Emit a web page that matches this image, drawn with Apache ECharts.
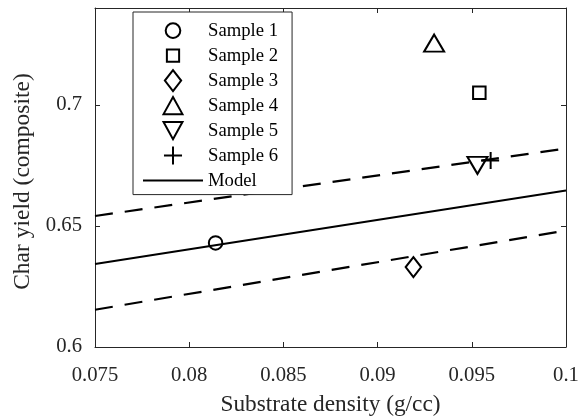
<!DOCTYPE html>
<html>
<head>
<meta charset="utf-8">
<script src="https://cdn.jsdelivr.net/npm/echarts@6/dist/echarts.min.js"></script>
<style>
  html, body { margin: 0; padding: 0; background: #fff; }
  #chart { width: 581px; height: 417px; }
</style>
</head>
<body>
<div id="chart"></div>
<script>
// ---- Data ----
const xTickLabels = ['0.075', '0.08', '0.085', '0.09', '0.095', '0.1'];
const yTickLabels = ['0.6', '0.65', '0.7'];

const sampleNames = ['Sample 1', 'Sample 2', 'Sample 3', 'Sample 4', 'Sample 5', 'Sample 6'];
const sampleDensity = [0.0814, 0.0954, 0.0919, 0.0930, 0.0953, 0.0960];
const sampleCharYield = [0.643, 0.705, 0.633, 0.7255, 0.675, 0.677];

const modelX = [0.075, 0.1];
const modelY = [0.6343, 0.6646];
const upperY = [0.6541, 0.6820];
const lowerY = [0.6154, 0.6481];

// ---- Styling ----
const FONT = '"Liberation Serif", "Times New Roman", serif';
const AX = '#262626';
const symbols = [
  'circle',
  'rect',
  'diamond',
  'triangle',
  'path://M-1,-1 L1,-1 L0,1 Z',
  'path://M0,-1 L0,1 M-1,0 L1,0'
];
const symbolSizes = [13.5, 12.5, [15.5, 20], [20, 17], [20, 17], [17, 17]];
// legend icons: padded to a common square box so relative sizes are kept
const PAD = 'M-1,-1 M1,1 ';
const legendIcons = [
  'path://' + PAD + 'M-0.665,0 A0.665,0.665 0 1,1 0.665,0 A0.665,0.665 0 1,1 -0.665,0 Z',
  'path://' + PAD + 'M-0.556,-0.556 L0.556,-0.556 L0.556,0.556 L-0.556,0.556 Z',
  'path://' + PAD + 'M0,-0.95 L0.74,0 L0,0.95 L-0.74,0 Z',
  'path://' + PAD + 'M0,-0.775 L0.86,0.775 L-0.86,0.775 Z',
  'path://' + PAD + 'M-0.86,-0.775 L0.86,-0.775 L0,0.775 Z',
  'path://' + PAD + 'M0,-0.82 L0,0.82 M-0.82,0 L0.82,0'
];

const pairs = (xs, ys) => xs.map((x, i) => [x, ys[i]]);

const series = [];
series.push({
  name: 'Model', type: 'line', data: pairs(modelX, modelY),
  symbol: 'none', lineStyle: { color: '#000', width: 2 }, z: 3, silent: true
});
series.push({
  name: 'Upper', type: 'line', data: pairs(modelX, upperY),
  symbol: 'none', lineStyle: { color: '#000', width: 2.2, type: [18, 12] }, z: 3, silent: true
});
series.push({
  name: 'Lower', type: 'line', data: pairs(modelX, lowerY),
  symbol: 'none', lineStyle: { color: '#000', width: 2.2, type: [18, 12] }, z: 3, silent: true
});
sampleNames.forEach((nm, i) => {
  series.push({
    name: nm, type: 'scatter',
    data: [[sampleDensity[i], sampleCharYield[i]]],
    symbol: symbols[i], symbolSize: symbolSizes[i],
    itemStyle: { color: 'rgba(255,255,255,0)', borderColor: '#000', borderWidth: 2, opacity: 1 },
    z: 5, silent: true
  });
});

const legendData = sampleNames.map((nm, i) => ({
  name: nm, icon: legendIcons[i],
  itemStyle: { color: 'rgba(255,255,255,0)', borderColor: '#000', borderWidth: 2 }
}));
legendData.push({
  name: 'Model',
  itemStyle: { color: 'rgba(0,0,0,0)', borderColor: 'rgba(0,0,0,0)', borderWidth: 0 },
  lineStyle: { color: '#000', width: 2 },
  textStyle: { fontFamily: FONT, fontSize: 18.7, color: '#000', lineHeight: 24 }
});

const baseAxis = {
  axisLine: { show: true, onZero: false, lineStyle: { color: AX, width: 1 } },
  axisTick: { show: true, inside: true, length: 5, lineStyle: { color: AX, width: 1 } },
  splitLine: { show: false }
};

const option = {
  animation: false,
  backgroundColor: '#fff',
  grid: { left: 95, right: 15, top: 8, bottom: 70, show: false, containLabel: false, outerBoundsMode: 'none' },
  legend: {
    data: legendData,
    orient: 'vertical',
    left: 133, top: 12,
    itemWidth: 60, itemHeight: 22, itemGap: 1,
    padding: [6.6, 14, 2, 9],
    backgroundColor: '#fff',
    borderColor: AX, borderWidth: 1,
    selectedMode: false,
    textStyle: { fontFamily: FONT, fontSize: 18.7, color: '#000', lineHeight: 18 },
    z: 10
  },
  xAxis: [
    Object.assign({}, baseAxis, {
      type: 'value', position: 'bottom', min: 0.075, max: 0.1, interval: 0.005,
      name: 'Substrate density (g/cc)', nameLocation: 'middle', nameGap: 46,
      nameTextStyle: { fontFamily: FONT, fontSize: 23.3, color: AX },
      axisLabel: {
        margin: 18, fontFamily: FONT, fontSize: 20.7, color: AX,
        formatter: (v, i) => xTickLabels[i] ?? ''
      }
    }),
    Object.assign({}, baseAxis, {
      type: 'value', position: 'top', min: 0.075, max: 0.1, interval: 0.005,
      axisLabel: { show: false }
    })
  ],
  yAxis: [
    Object.assign({}, baseAxis, {
      type: 'value', position: 'left', min: 0.6, max: 0.74, interval: 0.05,
      name: 'Char yield (composite)', nameLocation: 'middle', nameGap: 53,
      nameTextStyle: { fontFamily: FONT, fontSize: 23.5, color: AX, padding: [0, 8, 0, 0] },
      axisLabel: {
        margin: 13, fontFamily: FONT, fontSize: 20.7, color: AX,
        padding: [5, 0, 0, 0],
        showMaxLabel: false,
        formatter: (v, i) => yTickLabels[i] ?? ''
      }
    }),
    Object.assign({}, baseAxis, {
      type: 'value', position: 'right', min: 0.6, max: 0.74, interval: 0.05,
      axisLabel: { show: false }
    })
  ],
  series: series
};

const chart = echarts.init(document.getElementById('chart'), null, { renderer: 'canvas' });
chart.setOption(option);
</script>
</body>
</html>
